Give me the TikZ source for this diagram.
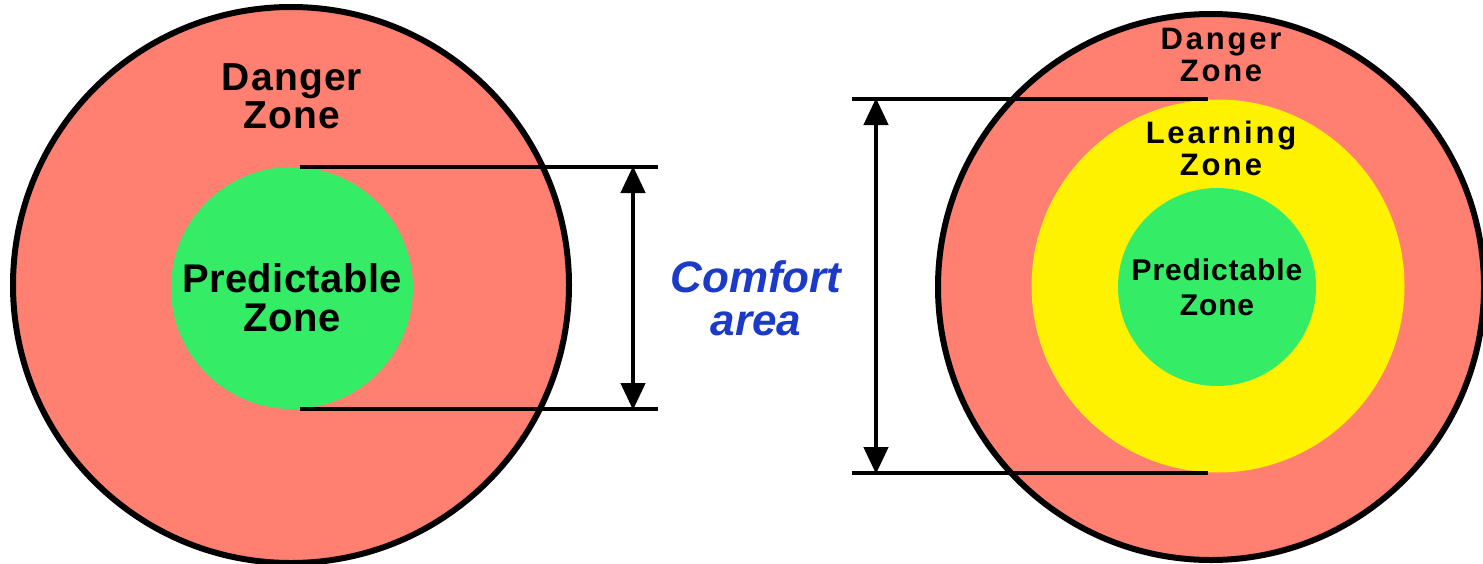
\documentclass[tikz,border=0pt]{standalone}
\usepackage{fontspec}
\setmainfont{Liberation Sans}
\usetikzlibrary{arrows.meta}
\definecolor{dangerred}{RGB}{255,127,112}
\definecolor{safegreen}{RGB}{52,236,102}
\definecolor{learnyellow}{RGB}{255,242,0}
\definecolor{comfortblue}{RGB}{28,58,200}
\begin{document}
\begin{tikzpicture}[x=1pt,y=-1pt,
  outerzone/.style={circle, inner sep=0pt, outer sep=0pt, fill=dangerred, draw=black, line width=6pt},
  innerzone/.style={circle, inner sep=0pt, outer sep=0pt, draw=none},
  bigtext/.style={align=center, inner sep=0pt, font=\addfontfeatures{LetterSpace=3}\bfseries\fontsize{39}{38}\selectfont},
  smalltext/.style={align=center, inner sep=0pt, font=\addfontfeatures{LetterSpace=9}\bfseries\fontsize{31}{32}\selectfont},
  guide/.style={line width=4.5pt},
  dim/.style={line width=4.5pt, {Triangle[length=27pt,width=24pt]}-{Triangle[length=27pt,width=24pt]}, shorten <=-1pt, shorten >=-1pt}
]
\useasboundingbox (0,0) rectangle (1483,563);
\fill[white] (0,0) rectangle (1483,563);

% left diagram
\node[outerzone, minimum size=556pt] (outerL) at (291,285) {};
\node[innerzone, fill=safegreen, minimum size=242pt] (greenL) at (292,288) {};
\node[bigtext] (dangerL) at (292,96) {Danger\\Zone};
\node[bigtext, font=\addfontfeatures{LetterSpace=1}\bfseries\fontsize{40}{39}\selectfont] (predL) at (292,298) {Predictable\\Zone};

\coordinate (lt1) at (300,167);
\coordinate (lt2) at (658,167);
\coordinate (lb1) at (300,409);
\coordinate (lb2) at (658,409);
\coordinate (la1) at (633,167);
\coordinate (la2) at (633,409);
\draw[guide] (lt1) -- (lt2);
\draw[guide] (lb1) -- (lb2);
\draw[dim] (la1) -- (la2);

% comfort label
\node[align=center, inner sep=0pt, text=comfortblue, font=\bfseries\itshape\fontsize{44}{43}\selectfont] (comfort) at (756,298) {Comfort\\area};

% right diagram
\node[outerzone, minimum size=546pt] (outerR) at (1211,287) {};
\node[innerzone, fill=learnyellow, minimum size=373pt] (yellowR) at (1218,286) {};
\node[innerzone, fill=safegreen, minimum size=198pt] (greenR) at (1217,287) {};
\node[smalltext] (dangerR) at (1221,55) {Danger\\Zone};
\node[smalltext] (learnR) at (1221,148) {Learning\\Zone};
\node[smalltext, font=\addfontfeatures{LetterSpace=3}\bfseries\fontsize{30}{35}\selectfont] (predR) at (1217,287) {Predictable\\Zone};

\coordinate (rt1) at (852,99);
\coordinate (rt2) at (1208,99);
\coordinate (rb1) at (852,473);
\coordinate (rb2) at (1208,473);
\coordinate (ra1) at (876,99);
\coordinate (ra2) at (876,473);
\draw[guide] (rt1) -- (rt2);
\draw[guide] (rb1) -- (rb2);
\draw[dim] (ra1) -- (ra2);
\end{tikzpicture}
\end{document}
